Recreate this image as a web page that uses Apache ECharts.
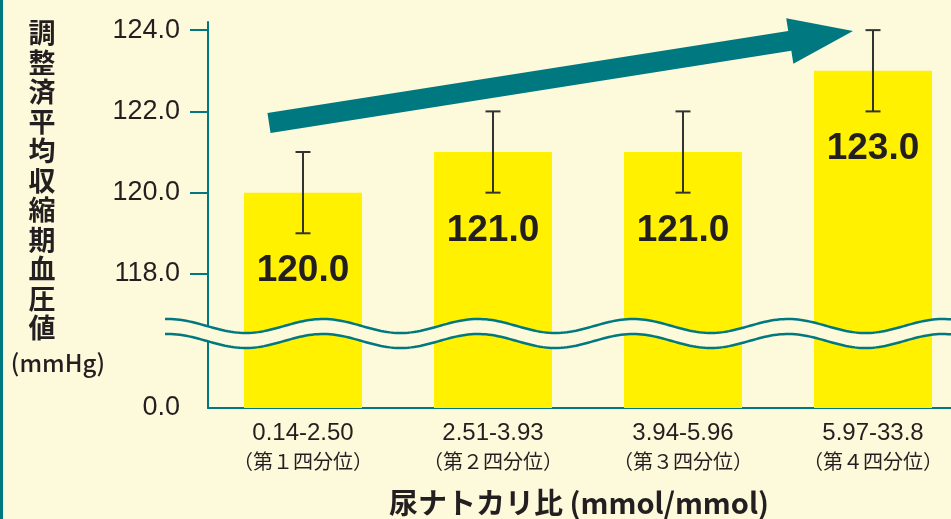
<!DOCTYPE html>
<html>
<head>
<meta charset="utf-8">
<script src="https://cdn.jsdelivr.net/npm/echarts@6/dist/echarts.min.js"></script>
<style>
  html, body { margin: 0; padding: 0; background: #fdf9db; }
  #chart { width: 951px; height: 519px; }
</style>
</head>
<body>
<div id="chart"></div>
<script>
// data
var categories = ['0.14-2.50', '2.51-3.93', '3.94-5.96', '5.97-33.8'];
var quartiles = ['（第１四分位）', '（第２四分位）', '（第３四分位）', '（第４四分位）'];
var meanSBP = [120.0, 121.0, 121.0, 123.0];
var errLow = [119.0, 120.0, 120.0, 122.0];
var errHigh = [121.0, 122.0, 122.0, 124.0];
var yTicks = [118, 120, 122, 124];

var teal = '#00787f';
var bg = '#fdf9db';
var ink = '#231f20';

// axis starts just below the break, shown as 0.0
var yMin = 114.7;
var yMax = 124.2;
// categories are 190px apart and the last one runs past the right edge
var xMin = -0.5;
var xMax = (951 - 208) / 190 - 0.5;

var chart = echarts.init(document.getElementById('chart'));

// wavy break lines
function wave(offset, x0, x1) {
  var pts = [];
  for (var x = x0; x <= x1; x += 3) {
    pts.push([x, 326 + offset - 7 * Math.cos((x - 323) / 155 * 2 * Math.PI)]);
  }
  return pts;
}
var waveTop = wave(0, 165, 954);
var waveBot = wave(15, 165, 954);
var waveFill = waveTop.concat(waveBot.slice().reverse());

// big trend arrow
function arrowPoints(tail, tip, half, headHalf, headLen) {
  var dx = tip[0] - tail[0], dy = tip[1] - tail[1];
  var len = Math.sqrt(dx * dx + dy * dy);
  var ux = dx / len, uy = dy / len;
  var nx = -uy, ny = ux;
  var bx = tip[0] - ux * headLen, by = tip[1] - uy * headLen;
  return [
    [tail[0] - nx * half, tail[1] - ny * half],
    [bx - nx * half, by - ny * half],
    [bx - nx * headHalf, by - ny * headHalf],
    tip,
    [bx + nx * headHalf, by + ny * headHalf],
    [bx + nx * half, by + ny * half],
    [tail[0] + nx * half, tail[1] + ny * half]
  ];
}

var yTitle = '調整済平均収縮期血圧値'.split('').join('\n');

var option = {
  backgroundColor: bg,
  animation: false,
  grid: { left: 208, top: 22, bottom: 111, right: 0 },
  xAxis: {
    type: 'value',
    min: xMin,
    max: xMax,
    splitLine: { show: false },
    axisLine: { show: true, onZero: false, lineStyle: { color: teal, width: 2 } },
    axisTick: { show: false },
    axisLabel: {
      margin: 11,
      customValues: [0, 1, 2, 3],
      formatter: function (v) {
        var i = Math.round(v);
        return '{a|' + categories[i] + '}\n{b|' + quartiles[i] + '}';
      },
      rich: {
        a: { fontSize: 24, color: ink, fontFamily: 'Liberation Sans, Arial, sans-serif', lineHeight: 28 },
        b: { fontSize: 20, color: ink, fontFamily: 'Noto Sans CJK JP, sans-serif', lineHeight: 28 }
      }
    }
  },
  yAxis: {
    type: 'value',
    min: yMin,
    max: yMax,
    splitLine: { show: false },
    axisLine: { show: true, onZero: false, lineStyle: { color: teal, width: 2 } },
    axisTick: {
      show: true,
      length: 18,
      customValues: yTicks,
      lineStyle: { color: teal, width: 2 }
    },
    axisLabel: {
      margin: 28,
      customValues: [yMin].concat(yTicks),
      color: ink,
      fontSize: 27,
      fontFamily: 'Liberation Sans, Arial, sans-serif',
      formatter: function (v) {
        return v < 118 ? '0.0' : v.toFixed(1);
      }
    }
  },
  series: [
    {
      type: 'bar',
      data: meanSBP.map(function (v, i) { return [i, v]; }),
      barWidth: 118,
      itemStyle: { color: '#fff100' },
      label: {
        show: true,
        position: 'insideTop',
        distance: 60,
        formatter: function (p) { return p.value[1].toFixed(1); },
        fontSize: 37,
        fontWeight: 'bold',
        color: ink,
        fontFamily: 'Liberation Sans, Arial, sans-serif'
      },
      z: 2
    },
    {
      type: 'custom',
      data: errLow.map(function (lo, i) { return [i, lo, errHigh[i]]; }),
      z: 3,
      renderItem: function (params, api) {
        var lo = api.coord([api.value(0), api.value(1)]);
        var hi = api.coord([api.value(0), api.value(2)]);
        var w = 7.5;
        var style = { stroke: '#333333', lineWidth: 2 };
        return {
          type: 'group',
          children: [
            { type: 'line', shape: { x1: hi[0], y1: hi[1], x2: lo[0], y2: lo[1] }, style: style },
            { type: 'line', shape: { x1: hi[0] - w, y1: hi[1], x2: hi[0] + w, y2: hi[1] }, style: style },
            { type: 'line', shape: { x1: lo[0] - w, y1: lo[1], x2: lo[0] + w, y2: lo[1] }, style: style }
          ]
        };
      }
    }
  ],
  graphic: [
    // left teal stripe
    { type: 'rect', left: 0, top: 0, shape: { width: 3, height: 519 }, style: { fill: teal }, z: 10 },
    // break
    { type: 'polygon', shape: { points: waveFill }, style: { fill: bg }, z: 20 },
    { type: 'polyline', shape: { points: waveTop }, style: { stroke: teal, lineWidth: 2.5, fill: null }, z: 21 },
    { type: 'polyline', shape: { points: waveBot }, style: { stroke: teal, lineWidth: 2.5, fill: null }, z: 21 },
    // arrow
    {
      type: 'polygon',
      shape: { points: arrowPoints([269, 123], [853, 31], 10, 23, 64) },
      style: { fill: teal },
      z: 15
    },
    // y title
    {
      type: 'text', x: 42, y: 18, z: 10,
      style: {
        text: yTitle, align: 'center', verticalAlign: 'top',
        font: 'bold 27px "Noto Sans CJK JP", sans-serif', lineHeight: 29.5, fill: ink
      }
    },
    {
      type: 'text', x: 58, y: 363, z: 10,
      style: {
        text: '(mmHg)', align: 'center', verticalAlign: 'middle',
        font: '500 24px "Noto Sans CJK JP", sans-serif', fill: ink
      }
    },
    // x title
    {
      type: 'text', x: 579, y: 503, z: 10,
      style: {
        text: '尿ナトカリ比 (mmol/mmol)', align: 'center', verticalAlign: 'middle',
        font: 'bold 29px "Noto Sans CJK JP", sans-serif', fill: ink
      }
    }
  ]
};

chart.setOption(option);
</script>
</body>
</html>
